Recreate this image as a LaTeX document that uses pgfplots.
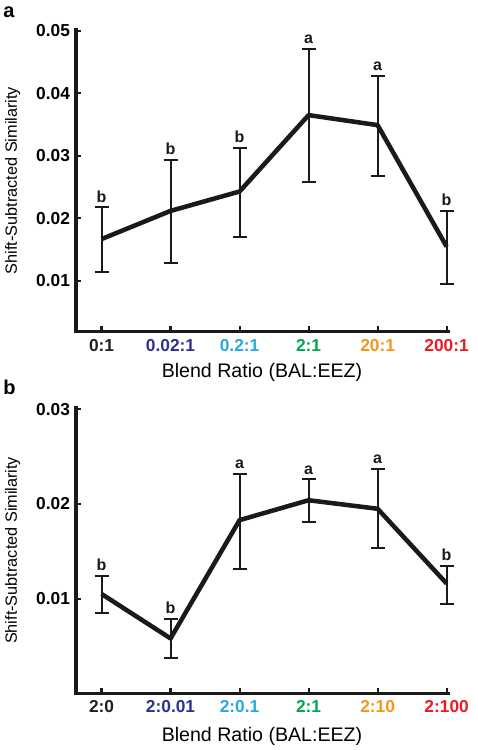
\documentclass[border=0pt]{standalone}
\usepackage{pgfplots}
\pgfplotsset{compat=1.18}
\usepackage{pgfplotstable}
\usepackage{fontspec}
\setmainfont{Liberation Sans}
\definecolor{c1}{HTML}{231F20}
\definecolor{c2}{HTML}{2E3192}
\definecolor{c3}{HTML}{27AAE1}
\definecolor{c4}{HTML}{00A651}
\definecolor{c5}{HTML}{F7941D}
\definecolor{c6}{HTML}{ED1C24}
\definecolor{ink}{HTML}{1A1A1A}

\pgfplotstableread{
x y ep em up l
0 0.0167 0.0051 0.0053 0.0218 b
1 0.0212 0.0082 0.0084 0.0294 b
2 0.0243 0.0070 0.0072 0.0313 b
3 0.0365 0.0106 0.0107 0.0471 a
4 0.0349 0.0079 0.0081 0.0428 a
5 0.0155 0.0057 0.0059 0.0212 b
}\dataA

\pgfplotstableread{
x y ep em up l
0 0.0105 0.0019 0.0020 0.0124 b
1 0.0058 0.0021 0.0021 0.0079 b
2 0.0183 0.0049 0.0052 0.0232 a
3 0.0204 0.0022 0.0023 0.0226 a
4 0.0195 0.0042 0.0041 0.0237 a
5 0.0116 0.0019 0.0022 0.0135 b
}\dataB

\pgfplotsset{
  myax/.style={
    scale only axis, width=279pt,
    xmin=-0.37, xmax=5.02,
    axis x line*=bottom, axis y line*=left,
    axis line style={-, line width=2.5pt, line cap=rect, ink},
    tick align=inside, major tick length=4pt,
    tick style={line width=1.6pt, ink},
    scaled y ticks=false,
    xtick={0,1,2,3,4,5},
    ticklabel style={font=\bfseries\fontsize{13}{15}\selectfont},
    xticklabel style={yshift=-2pt},
    yticklabel style={xshift=-1pt},
    ylabel={Shift-Subtracted Similarity},
    xlabel={Blend Ratio (BAL:EEZ)},
    ylabel style={font=\fontsize{12.2}{14}\selectfont, anchor=center},
    xlabel style={font=\fontsize{14.7}{17}\selectfont, anchor=center},
    clip=false,
  },
  mainline/.style={line width=3.4pt, ink, line join=round, mark=none,
    error bars/.cd, y dir=both, y explicit,
    error bar style={line width=1.5pt, ink},
    error mark options={rotate=90, line width=1.5pt, mark size=5.25pt, ink}},
  letters/.style={draw=none, mark=none, nodes near coords, point meta=explicit symbolic,
    nodes near coords style={anchor=south, yshift=3.5pt, inner sep=0pt, text=ink,
      font=\bfseries\fontsize{12}{14}\selectfont}},
}

\begin{document}
\begin{tikzpicture}
\useasboundingbox (0,0) rectangle (358.5pt,-562.5pt);
\node[anchor=base west, inner sep=0pt, font=\bfseries\fontsize{15}{15}\selectfont] at (2.25pt,-12.75pt) {a};
\node[anchor=base west, inner sep=0pt, font=\bfseries\fontsize{15}{15}\selectfont] at (2.25pt,-296pt) {b};

\begin{axis}[myax, at={(57pt,-248.8pt)}, anchor=south west,
  height=226.8pt, ymin=0.0019, ymax=0.0502,
  ytick={0.01,0.02,0.03,0.04,0.05},
  yticklabels={0.01,0.02,0.03,0.04,0.05},
  xticklabels={\textcolor{c1}{0:1},\textcolor{c2}{0.02:1},\textcolor{c3}{0.2:1},\textcolor{c4}{2:1},\textcolor{c5}{20:1},\textcolor{c6}{200:1}},
  ylabel style={at={(rel axis cs:-0.17,0.5)}},
  xlabel style={at={(rel axis cs:0.5,-0.133)}},
]
\addplot[mainline] table[x=x, y=y, y error plus=ep, y error minus=em]{\dataA};
\addplot[letters] table[x=x, y=up, meta=l]{\dataA};
\end{axis}

\begin{axis}[myax, at={(57pt,-520pt)}, anchor=south west,
  height=214.4pt, ymin=0, ymax=0.0302,
  ytick={0.01,0.02,0.03},
  yticklabels={0.01,0.02,0.03},
  xticklabels={\textcolor{c1}{2:0},\textcolor{c2}{2:0.01},\textcolor{c3}{2:0.1},\textcolor{c4}{2:1},\textcolor{c5}{2:10},\textcolor{c6}{2:100}},
  ylabel style={at={(rel axis cs:-0.17,0.5)}},
  xlabel style={at={(rel axis cs:0.5,-0.149)}},
]
\addplot[mainline] table[x=x, y=y, y error plus=ep, y error minus=em]{\dataB};
\addplot[letters] table[x=x, y=up, meta=l]{\dataB};
\end{axis}
\end{tikzpicture}
\end{document}
